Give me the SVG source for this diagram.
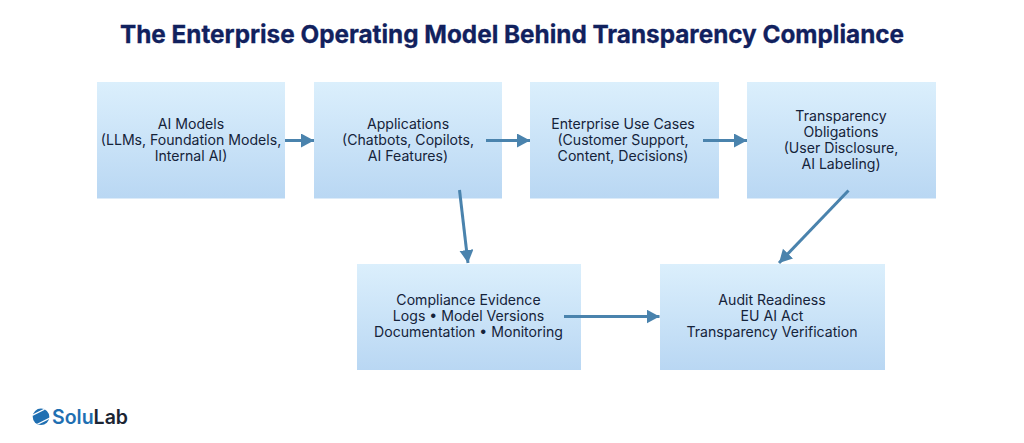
<svg xmlns="http://www.w3.org/2000/svg" width="1024" height="443" viewBox="0 0 1024 443">
<style>
.t{font-family:Inter,"Liberation Sans",sans-serif;font-size:14.1px;fill:#15233a;text-anchor:middle}
.title{font-family:Inter,"Liberation Sans",sans-serif;font-size:24.3px;font-weight:700;fill:#11215e;stroke:#11215e;stroke-width:.3;text-anchor:middle}
.box{fill:url(#g)}
.c{fill:none;stroke:#4a83ad;stroke-width:3;marker-end:url(#a)}
</style>
<defs>
<linearGradient id="g" x1="0" y1="0" x2="0" y2="1"><stop offset="0" stop-color="#dbeffc"/><stop offset="1" stop-color="#b9d7f3"/></linearGradient>
<marker id="a" markerUnits="userSpaceOnUse" markerWidth="14" markerHeight="15" refX="13" refY="7" orient="auto"><path d="M0 0L13 7L0 14Z" fill="#4a83ad"/></marker>
<clipPath id="lc"><circle cx="41" cy="416.800" r="8.300"/></clipPath>
</defs>
<rect width="1024" height="443" fill="#fff"/>
<text class="title" x="512" y="42.500">The Enterprise Operating Model Behind Transparency Compliance</text>
<g id="n1"><rect class="box" x="97" y="82" width="188" height="116.500"/><text class="t" x="191" y="129">AI Models</text><text class="t" x="191" y="145">(LLMs, Foundation Models,</text><text class="t" x="191" y="161">Internal AI)</text></g>
<g id="n2"><rect class="box" x="314" y="82" width="188" height="116.500"/><text class="t" x="408" y="129">Applications</text><text class="t" x="408" y="145">(Chatbots, Copilots,</text><text class="t" x="408" y="161">AI Features)</text></g>
<g id="n3"><rect class="box" x="530" y="82" width="189" height="116.500"/><text class="t" x="623" y="129">Enterprise Use Cases</text><text class="t" x="623" y="145">(Customer Support,</text><text class="t" x="623" y="161">Content, Decisions)</text></g>
<g id="n4"><rect class="box" x="747" y="82" width="189" height="116.500"/><text class="t" x="841" y="121">Transparency</text><text class="t" x="841" y="137">Obligations</text><text class="t" x="841" y="153">(User Disclosure,</text><text class="t" x="841" y="169">AI Labeling)</text></g>
<g id="n5"><rect class="box" x="357" y="264" width="224" height="106"/><text class="t" x="468.500" y="305">Compliance Evidence</text><text class="t" x="468.500" y="321">Logs • Model Versions</text><text class="t" x="468.500" y="337">Documentation • Monitoring</text></g>
<g id="n6"><rect class="box" x="660" y="264" width="225" height="106"/><text class="t" x="772" y="305">Audit Readiness</text><text class="t" x="772" y="321">EU AI Act</text><text class="t" x="772" y="337">Transparency Verification</text></g>
<g id="connectors">
<line class="c" x1="285" y1="140.500" x2="314" y2="140.500"/>
<line class="c" x1="486" y1="140.500" x2="530" y2="140.500"/>
<line class="c" x1="703" y1="140.500" x2="747" y2="140.500"/>
<line class="c" x1="459.500" y1="190" x2="468" y2="263"/>
<line class="c" x1="848.500" y1="190.500" x2="779" y2="263"/>
<line class="c" x1="564" y1="316.500" x2="659.500" y2="316.500"/>
</g>
<g id="logo">
<circle cx="41" cy="416.800" r="8.300" fill="#1f6fb2"/>
<g clip-path="url(#lc)" stroke="#fff" stroke-width="1.300"><line x1="30" y1="416.500" x2="46" y2="408.500"/><line x1="35" y1="425.500" x2="53" y2="416.500"/></g>
<text x="52" y="423.500" font-family="Inter,'Liberation Sans',sans-serif" font-size="19.500" font-weight="600" fill="#1f6fb2">Solu<tspan fill="#1c2533">Lab</tspan></text>
</g>
</svg>
